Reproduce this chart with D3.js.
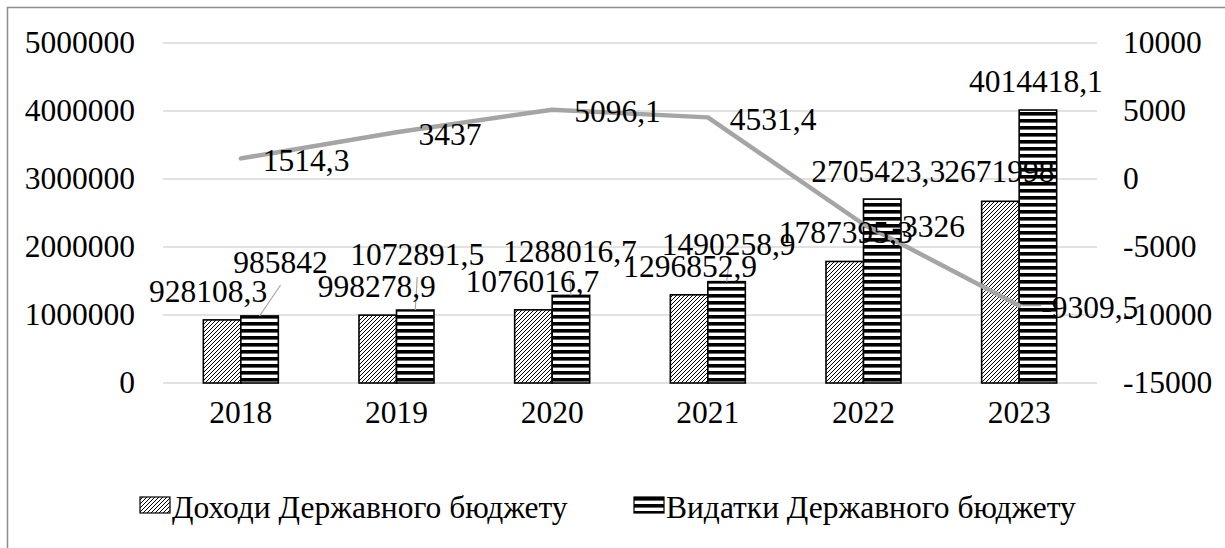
<!DOCTYPE html>
<html>
<head>
<meta charset="utf-8">
<script src="https://cdn.jsdelivr.net/npm/d3@7"></script>
<style>
  body { margin: 0; background: #fff; }
  svg { display: block; font-family: "Liberation Serif", "Times New Roman", serif; }
  .tick-label { font-size: 31.5px; fill: #000; }
  .data-label { font-size: 31.5px; fill: #000; }
  .grid { stroke: #d9d9d9; stroke-width: 1.5; }
  .leader { stroke: #a6a6a6; stroke-width: 1.2; fill: none; }
</style>
</head>
<body>
<svg id="chart" width="1225" height="548"></svg>
<script>
// data
const years = ['2018', '2019', '2020', '2021', '2022', '2023'];
const incomes = [928108.3, 998278.9, 1076016.7, 1296852.9, 1787395.3, 2671998];
const expenses = [985842, 1072891.5, 1288016.7, 1490258.9, 2705423.3, 4014418.1];
const balance = [1514.3, 3437, 5096.1, 4531.4, -3326, -9309.5];
const leftTicks = [0, 1000000, 2000000, 3000000, 4000000, 5000000];
const rightTicks = [-15000, -10000, -5000, 0, 5000, 10000];
const seriesNames = ['Доходи Державного бюджету', 'Видатки Державного бюджету'];

// manual label nudges (Excel moved some labels by hand)
const incomeNudge = [[-14, 0], [-1, 0], [-1, 0], [1, 0], [1, 0], [-1, -1]];
const expenseNudge = [[21, -25], [2, -27], [-1, -15], [2, -9], [-4, 1], [-2, 0]];
const balanceNudge = [[0, 0], [0, 0], [0, 0], [0, 0], [6, 0], [0, 0]];

const fmt = v => String(v).replace('.', ',');

const svg = d3.select('#chart');
const width = 1225, height = 548;
const plot = { left: 163, right: 1097, top: 43, bottom: 383 };

// hatch patterns
const defs = svg.append('defs');
const diag = defs.append('pattern')
  .attr('id', 'diag')
  .attr('patternUnits', 'userSpaceOnUse')
  .attr('width', 4).attr('height', 4);
diag.append('rect').attr('width', 4).attr('height', 4).attr('fill', '#fff');
diag.append('path')
  .attr('d', 'M-1,1 l2,-2 M0,4 l4,-4 M3,5 l2,-2')
  .attr('stroke', '#000').attr('stroke-width', 1);

const horiz = defs.append('pattern')
  .attr('id', 'horiz')
  .attr('patternUnits', 'userSpaceOnUse')
  .attr('width', 8).attr('height', 7);
horiz.append('rect').attr('width', 8).attr('height', 7).attr('fill', '#fff');
horiz.append('rect').attr('width', 8).attr('height', 3.6).attr('fill', '#000');

// chart area border (only top + left visible in the crop)
svg.append('path')
  .attr('d', `M7.5,${height + 5} V7.5 H${width + 5}`)
  .attr('fill', 'none').attr('stroke', '#8c8c8c').attr('stroke-width', 1.5);

// scales
const x = d3.scaleBand().domain(years).range([plot.left, plot.right]).paddingInner(0).paddingOuter(0);
const xSub = d3.scaleBand().domain([0, 1]).range([0, 75]);
const y = d3.scaleLinear().domain([0, 5000000]).range([plot.bottom, plot.top]);
const y2 = d3.scaleLinear().domain([-15000, 10000]).range([plot.bottom, plot.top]);
const groupOffset = (x.bandwidth() - 75) / 2;

// gridlines
svg.append('g').selectAll('line')
  .data(leftTicks)
  .join('line')
  .attr('class', 'grid')
  .attr('x1', plot.left).attr('x2', plot.right)
  .attr('y1', d => y(d)).attr('y2', d => y(d));

// left axis labels
svg.append('g').selectAll('text')
  .data(leftTicks)
  .join('text')
  .attr('class', 'tick-label')
  .attr('x', 135)
  .attr('y', d => y(d))
  .attr('dy', '0.33em')
  .attr('text-anchor', 'end')
  .text(d => d);

// right axis labels
svg.append('g').selectAll('text')
  .data(rightTicks)
  .join('text')
  .attr('class', 'tick-label')
  .attr('x', 1123)
  .attr('y', d => y2(d))
  .attr('dy', '0.33em')
  .text(d => d);

// category labels
svg.append('g').selectAll('text')
  .data(years)
  .join('text')
  .attr('class', 'tick-label')
  .attr('x', d => x(d) + x.bandwidth() / 2)
  .attr('y', 423)
  .attr('text-anchor', 'middle')
  .text(d => d);

const barX = (i, s) => x(years[i]) + groupOffset + xSub(s);
const bw = xSub.bandwidth();

// bars
const series = [incomes, expenses];
const fills = ['url(#diag)', 'url(#horiz)'];
series.forEach((vals, s) => {
  svg.append('g').selectAll('rect')
    .data(vals)
    .join('rect')
    .attr('x', (d, i) => barX(i, s))
    .attr('y', d => y(d))
    .attr('width', bw)
    .attr('height', d => y(0) - y(d))
    .attr('fill', fills[s])
    .attr('stroke', '#000')
    .attr('stroke-width', 1.6);
});

// balance line
const lineGen = d3.line()
  .x((d, i) => x(years[i]) + x.bandwidth() / 2)
  .y(d => y2(d));

svg.append('path')
  .datum(balance)
  .attr('d', lineGen)
  .attr('fill', 'none')
  .attr('stroke', '#a5a5a5')
  .attr('stroke-width', 4.5)
  .attr('stroke-linejoin', 'round')
  .attr('stroke-linecap', 'round');

// leader lines for expense labels pushed up
expenses.forEach((v, i) => {
  const [dx, dy] = expenseNudge[i];
  if (-dy < 8) return;
  const cx = barX(i, 1) + bw / 2;
  const top = y(v);
  svg.append('line')
    .attr('class', 'leader')
    .attr('x1', cx + dx).attr('y1', top - 18 + dy + 12)
    .attr('x2', cx).attr('y2', top);
});

// leader for the last balance label
{
  const i = balance.length - 1;
  const px = x(years[i]) + x.bandwidth() / 2;
  svg.append('line')
    .attr('class', 'leader')
    .attr('x1', px + 3).attr('y1', y2(balance[i]))
    .attr('x2', px + 22).attr('y2', y2(balance[i]));
}

// bar labels
series.forEach((vals, s) => {
  const nudge = s === 0 ? incomeNudge : expenseNudge;
  svg.append('g').selectAll('text')
    .data(vals)
    .join('text')
    .attr('class', 'data-label')
    .attr('x', (d, i) => barX(i, s) + bw / 2 + nudge[i][0])
    .attr('y', (d, i) => y(d) - 18 + nudge[i][1])
    .attr('text-anchor', 'middle')
    .text(d => fmt(d));
});

// line labels (to the right of each point)
svg.append('g').selectAll('text')
  .data(balance)
  .join('text')
  .attr('class', 'data-label')
  .attr('x', (d, i) => x(years[i]) + x.bandwidth() / 2 + 22 + balanceNudge[i][0])
  .attr('y', (d, i) => y2(d) + 2 + balanceNudge[i][1])
  .attr('dy', '0.33em')
  .text(d => fmt(d));

// legend
const legendX = [140, 634];
const legend = svg.append('g');
seriesNames.forEach((name, s) => {
  legend.append('rect')
    .attr('x', legendX[s]).attr('y', 497)
    .attr('width', 30).attr('height', 16)
    .attr('fill', fills[s])
    .attr('stroke', '#000').attr('stroke-width', 1.2);
  legend.append('text')
    .attr('class', 'tick-label')
    .attr('x', legendX[s] + 32)
    .attr('y', 518)
    .text(name);
});
</script>
</body>
</html>
